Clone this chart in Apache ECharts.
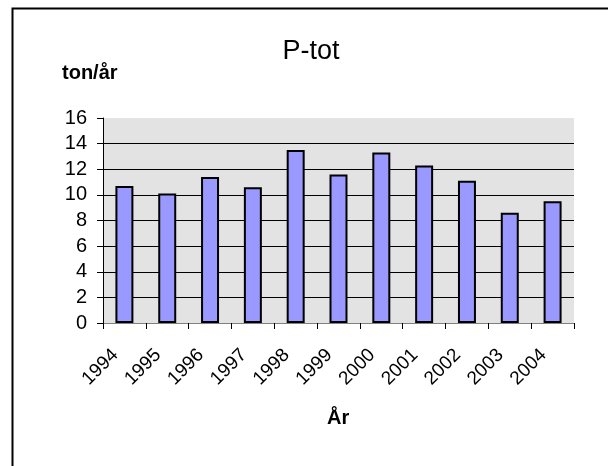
<!DOCTYPE html>
<html><head><meta charset="utf-8">
<script src="https://cdn.jsdelivr.net/npm/echarts@6/dist/echarts.min.js"></script>
<style>html,body{margin:0;padding:0;background:#fff}#c{width:608px;height:466px}</style>
</head><body><div id="c"></div>
<script>
const years = ['1994','1995','1996','1997','1998','1999','2000','2001','2002','2003','2004'];
const ptot = [10.7, 10.1, 11.4, 10.6, 13.5, 11.6, 13.3, 12.3, 11.1, 8.6, 9.5];
const yTicks = [0, 2, 4, 6, 8, 10, 12, 14, 16];
const titleText = 'P-tot';
const yName = 'ton/år';
const xName = 'År';

const font = 'Liberation Sans, Arial, sans-serif';
const chart = echarts.init(document.getElementById('c'), null, {renderer: 'canvas'});
chart.setOption({
  animation: false,
  backgroundColor: '#fff',
  title: {text: titleText, left: 306, top: 33, textAlign: 'center',
    textStyle: {fontFamily: font, fontSize: 27, fontWeight: 'normal', color: '#000'}},
  graphic: [
    {type: 'rect', left: 10, top: 6, shape: {width: 700, height: 600}, silent: true,
     style: {fill: 'none', stroke: '#000', lineWidth: 2}},
    {type: 'text', left: 62, top: 63, style: {text: yName, font: 'bold 20px ' + font, fill: '#000'}},
    {type: 'text', left: 327, top: 408, style: {text: xName, font: 'bold 20px ' + font, fill: '#000'}}
  ],
  grid: {left: 103, right: 34, top: 118, bottom: 143, show: true, backgroundColor: '#e3e3e3', borderWidth: 0},
  xAxis: {
    type: 'category', data: years,
    axisLine: {lineStyle: {color: '#808080', width: 1}},
    axisTick: {show: true, length: 6, lineStyle: {color: '#000'}},
    axisLabel: {rotate: 45, fontFamily: font, fontSize: 19, color: '#000', margin: 20, padding: [0, 13, 0, 0]}
  },
  yAxis: {
    type: 'value', min: yTicks[0], max: yTicks[yTicks.length - 1], interval: 2,
    axisLine: {show: true, lineStyle: {color: '#000'}},
    axisTick: {show: true, length: 6, lineStyle: {color: '#000'}},
    axisLabel: {fontFamily: font, fontSize: 20, color: '#000', margin: 16},
    splitLine: {show: true, lineStyle: {color: ['#000','#000','#000','#000','#000','#000','#000','#000','rgba(0,0,0,0)'], width: 1}}
  },
  series: [{
    type: 'bar', data: ptot, barWidth: '42%',
    itemStyle: {color: '#9999ff', borderColor: '#000', borderWidth: 2}
  }]
});
</script></body></html>
